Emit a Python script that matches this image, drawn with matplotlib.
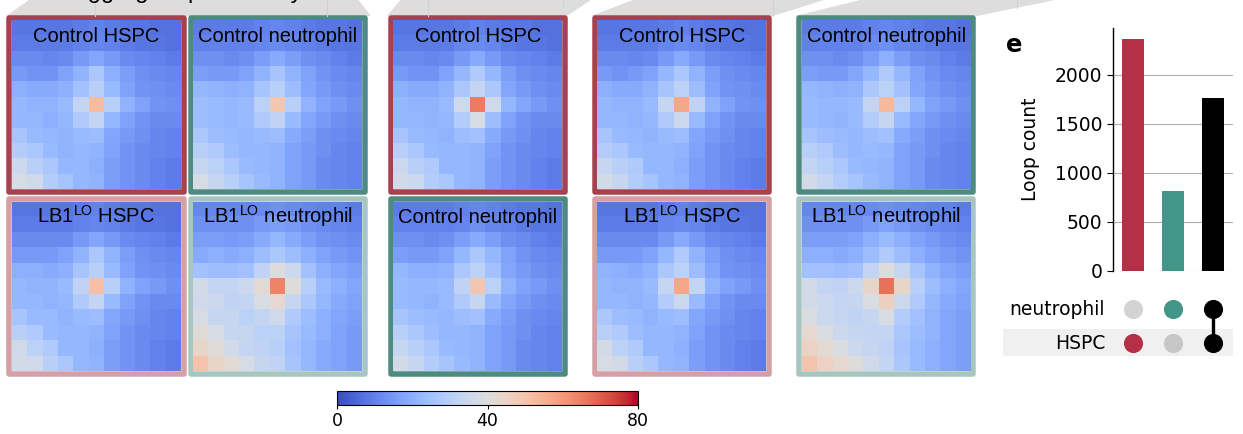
import numpy as np
import matplotlib
matplotlib.use("Agg")
import matplotlib.pyplot as plt
from matplotlib.patches import Rectangle, Polygon
from matplotlib.cm import ScalarMappable
from matplotlib.colors import Normalize

plt.rcParams['font.family'] = ['DejaVu Sans']
plt.rcParams['mathtext.fontset'] = 'custom'
plt.rcParams['mathtext.rm'] = 'Liberation Sans'

W, H = 1243, 434
DPI = 100

# ---------------- data ----------------
# APA matrices (11x11)
ctrl_hspc_1 = [
    [8, 8, 8, 8, 9, 10, 9, 8, 8, 7, 7],
    [9, 9, 9, 9, 10, 11, 10, 9, 8, 8, 7],
    [12, 12, 11, 12, 15, 18, 15, 12, 11, 10, 9],
    [15, 14, 14, 17, 21, 27, 20, 16, 13, 12, 11],
    [20, 19, 19, 20, 25, 30, 23, 17, 14, 13, 12],
    [22, 21, 21, 23, 33, 52, 30, 21, 17, 14, 13],
    [22, 22, 20, 22, 28, 33, 22, 17, 14, 12, 12],
    [26, 23, 22, 21, 23, 24, 18, 15, 13, 11, 10],
    [29, 27, 23, 21, 22, 21, 17, 14, 12, 11, 10],
    [35, 30, 27, 22, 22, 20, 16, 14, 12, 10, 9],
    [38, 36, 29, 26, 22, 21, 16, 14, 12, 10, 9],
]
ctrl_neut_1 = [
    [9, 9, 9, 9, 10, 11, 10, 9, 8, 8, 7],
    [10, 10, 10, 10, 11, 12, 11, 10, 9, 8, 8],
    [13, 13, 12, 13, 16, 19, 16, 13, 12, 10, 9],
    [16, 15, 15, 17, 21, 26, 21, 17, 14, 12, 11],
    [22, 21, 20, 21, 26, 30, 24, 18, 15, 13, 12],
    [24, 23, 22, 23, 31, 49, 30, 21, 17, 15, 13],
    [24, 23, 22, 23, 28, 32, 23, 18, 15, 13, 12],
    [27, 24, 23, 22, 23, 24, 19, 16, 13, 12, 11],
    [30, 28, 24, 22, 22, 21, 17, 15, 13, 11, 10],
    [34, 31, 27, 23, 22, 21, 17, 15, 12, 11, 10],
    [38, 34, 30, 26, 23, 21, 17, 15, 12, 11, 10],
]
lb1_hspc_1 = [
    [8, 8, 8, 8, 9, 10, 9, 8, 8, 7, 7],
    [9, 9, 9, 9, 10, 11, 10, 9, 8, 8, 7],
    [12, 12, 12, 12, 15, 18, 15, 12, 11, 10, 9],
    [15, 15, 15, 17, 21, 27, 21, 16, 13, 12, 11],
    [20, 20, 19, 20, 26, 30, 23, 17, 14, 13, 12],
    [22, 21, 21, 23, 32, 51, 30, 21, 17, 15, 13],
    [22, 22, 21, 22, 28, 33, 23, 17, 14, 12, 12],
    [26, 23, 23, 21, 23, 24, 18, 15, 13, 11, 10],
    [30, 28, 23, 22, 22, 21, 17, 14, 12, 11, 10],
    [36, 31, 28, 22, 22, 20, 16, 14, 12, 10, 9],
    [37, 36, 30, 27, 22, 21, 16, 14, 12, 10, 9],
]
lb1_neut_1 = [
    [11, 11, 11, 11, 12, 13, 12, 11, 10, 10, 9],
    [13, 13, 13, 13, 15, 16, 15, 13, 12, 11, 10],
    [16, 16, 15, 16, 19, 22, 19, 16, 14, 13, 12],
    [19, 20, 19, 20, 24, 27, 24, 20, 17, 15, 14],
    [25, 24, 24, 25, 32, 40, 35, 25, 20, 18, 16],
    [37, 33, 33, 35, 42, 64, 40, 30, 23, 20, 18],
    [36, 35, 32, 33, 38, 43, 34, 27, 22, 19, 17],
    [38, 34, 34, 31, 33, 36, 28, 24, 20, 18, 16],
    [41, 38, 34, 34, 31, 31, 26, 23, 20, 17, 15],
    [44, 41, 37, 33, 32, 30, 25, 22, 19, 17, 15],
    [50, 44, 42, 38, 34, 32, 26, 22, 19, 17, 15],
]
ctrl_hspc_2 = [
    [8, 8, 8, 8, 9, 10, 9, 8, 8, 7, 7],
    [9, 9, 9, 9, 11, 12, 11, 9, 8, 8, 7],
    [12, 12, 11, 12, 15, 19, 15, 12, 11, 10, 9],
    [15, 14, 14, 17, 22, 28, 22, 16, 13, 12, 11],
    [20, 19, 19, 21, 27, 33, 27, 18, 15, 13, 12],
    [22, 21, 21, 23, 36, 65, 36, 22, 18, 15, 13],
    [22, 22, 21, 22, 29, 38, 24, 17, 14, 12, 12],
    [26, 23, 22, 21, 24, 25, 19, 15, 13, 11, 10],
    [30, 27, 23, 22, 22, 21, 17, 14, 12, 11, 10],
    [35, 30, 28, 22, 22, 21, 16, 14, 12, 10, 9],
    [37, 35, 29, 27, 22, 21, 16, 14, 12, 10, 9],
]
ctrl_neut_2 = [
    [9, 9, 9, 9, 10, 11, 10, 9, 8, 8, 7],
    [10, 10, 10, 10, 11, 13, 11, 10, 9, 8, 8],
    [13, 13, 12, 13, 16, 19, 16, 13, 12, 10, 9],
    [16, 15, 15, 17, 22, 27, 22, 17, 14, 12, 11],
    [22, 20, 20, 21, 27, 31, 25, 18, 15, 13, 12],
    [23, 22, 22, 23, 32, 49, 31, 21, 17, 15, 13],
    [23, 22, 21, 23, 28, 34, 23, 18, 15, 13, 12],
    [26, 24, 23, 22, 24, 25, 19, 16, 13, 12, 11],
    [30, 27, 24, 22, 22, 21, 17, 15, 13, 11, 10],
    [34, 30, 27, 23, 22, 21, 17, 15, 12, 11, 10],
    [37, 34, 29, 26, 23, 21, 17, 15, 12, 11, 10],
]
ctrl_hspc_3 = [
    [8, 8, 8, 8, 9, 10, 9, 8, 8, 7, 7],
    [9, 9, 9, 9, 11, 12, 11, 9, 8, 8, 7],
    [12, 12, 11, 12, 15, 19, 15, 12, 11, 10, 9],
    [15, 14, 15, 17, 22, 27, 21, 16, 13, 12, 11],
    [20, 19, 19, 21, 26, 31, 24, 17, 14, 13, 12],
    [22, 21, 21, 23, 34, 57, 32, 21, 17, 14, 13],
    [22, 22, 21, 22, 28, 35, 23, 17, 14, 12, 12],
    [26, 23, 22, 21, 23, 24, 18, 15, 13, 11, 10],
    [29, 27, 23, 22, 22, 21, 17, 14, 12, 11, 10],
    [34, 30, 28, 22, 22, 20, 16, 14, 12, 10, 9],
    [37, 34, 29, 26, 22, 21, 16, 14, 12, 10, 9],
]
lb1_hspc_3 = [
    [8, 8, 8, 8, 9, 10, 9, 8, 8, 7, 7],
    [9, 9, 9, 9, 11, 12, 11, 9, 8, 8, 7],
    [12, 12, 12, 12, 15, 19, 15, 12, 11, 10, 9],
    [15, 15, 15, 17, 22, 28, 21, 16, 13, 12, 11],
    [21, 20, 19, 21, 27, 31, 24, 18, 14, 13, 12],
    [22, 21, 21, 23, 34, 57, 33, 21, 17, 15, 13],
    [22, 22, 21, 22, 29, 35, 23, 17, 14, 12, 12],
    [27, 24, 23, 21, 23, 24, 18, 15, 13, 11, 10],
    [30, 28, 24, 22, 22, 21, 17, 14, 12, 11, 10],
    [37, 31, 28, 22, 22, 20, 16, 14, 12, 10, 9],
    [38, 37, 30, 27, 22, 21, 16, 14, 12, 10, 9],
]
ctrl_neut_4 = [
    [9, 9, 9, 9, 10, 11, 10, 9, 8, 8, 7],
    [10, 10, 10, 10, 12, 13, 11, 10, 9, 8, 8],
    [13, 13, 12, 13, 16, 20, 16, 13, 12, 10, 9],
    [16, 15, 15, 18, 22, 28, 22, 17, 14, 12, 11],
    [22, 21, 20, 21, 27, 31, 25, 18, 15, 13, 12],
    [23, 22, 22, 23, 33, 53, 31, 22, 17, 15, 13],
    [23, 22, 21, 23, 29, 34, 23, 18, 15, 13, 12],
    [26, 24, 23, 22, 24, 25, 19, 16, 13, 12, 11],
    [30, 28, 24, 22, 23, 22, 17, 15, 13, 11, 10],
    [33, 30, 27, 23, 22, 21, 17, 15, 12, 11, 10],
    [37, 33, 29, 26, 23, 21, 17, 15, 12, 11, 10],
]
lb1_neut_4 = [
    [11, 11, 11, 11, 12, 13, 12, 11, 10, 10, 9],
    [13, 13, 13, 13, 15, 17, 15, 13, 12, 11, 10],
    [16, 16, 16, 17, 20, 23, 20, 17, 15, 13, 12],
    [20, 20, 19, 20, 24, 28, 24, 20, 17, 15, 14],
    [25, 25, 24, 25, 33, 40, 34, 26, 21, 18, 16],
    [37, 33, 32, 35, 44, 67, 44, 30, 24, 20, 18],
    [37, 35, 33, 34, 39, 46, 35, 28, 22, 19, 17],
    [39, 35, 34, 32, 34, 38, 29, 25, 21, 18, 16],
    [43, 39, 35, 34, 33, 33, 27, 24, 21, 18, 16],
    [45, 42, 39, 35, 34, 32, 26, 23, 20, 18, 16],
    [50, 45, 43, 40, 36, 33, 27, 23, 20, 18, 16],
]

# Upset plot data
set_names = ['HSPC', 'neutrophil']
loop_counts = [2364, 816, 1759]
membership = [[1, 0], [0, 1], [1, 1]]   # (HSPC, neutrophil) per bar
bar_colors = ['#b53046', '#439489', '#000000']
yticks_upset = [0, 500, 1000, 1500, 2000]
cbar_ticks = [0, 40, 80]

# ---------------- layout helpers ----------------
fig = plt.figure(figsize=(W / DPI, H / DPI), dpi=DPI)


def fx(x):
    return x / W


def fy(y):
    return 1 - y / H


over = fig.add_axes([0, 0, 1, 1], zorder=0)
over.set_xlim(0, W)
over.set_ylim(H, 0)
over.axis('off')

# gray connector shapes at the top (cut off by the figure edge)
gray = '#dddddd'
polys = [
    [(6, 16), (371, 16), (357, -2), (32, -2)],
    [(387, 16), (567, 16), (594, -2), (402, -2)],
    [(591, 16), (773, 16), (830, -2), (638, -2)],
    [(795, 16), (977, 16), (1065, -2), (868, -2)],
]
for p in polys:
    over.add_patch(Polygon(p, closed=True, facecolor=gray, edgecolor='none'))
for (x, y1) in [(95, 16), (327, 16), (428, 16), (563, 6), (773, 16), (1017, 8)]:
    over.plot([x, x], [-2, y1], color='#d0d0d0', lw=0.8)

# title of the panel above, cut off at the top edge as in the reference
fig.text(fx(72), 1 + 2 / H, 'Aggregate peak analysis', family='Liberation Sans',
         fontsize=17, ha='left', va='baseline')

# ---------------- heatmaps ----------------
col_red = '#a6414f'
col_teal = '#4d8a80'
col_pink = '#d4a0a6'
col_lteal = '#a8c6c0'

t_ctrl_hspc = 'Control HSPC'
t_ctrl_neut = 'Control neutrophil'
t_lb1_hspc = r'LB1$^{\mathregular{LO}}$ HSPC'
t_lb1_neut = r'LB1$^{\mathregular{LO}}$ neutrophil'

size = 169.0
top_y, bot_y = 20.3, 201.8
panels = [
    (12.0, top_y, ctrl_hspc_1, t_ctrl_hspc, col_red),
    (193.3, top_y, ctrl_neut_1, t_ctrl_neut, col_teal),
    (12.0, bot_y, lb1_hspc_1, t_lb1_hspc, col_pink),
    (193.3, bot_y, lb1_neut_1, t_lb1_neut, col_lteal),
    (393.3, top_y, ctrl_hspc_2, t_ctrl_hspc, col_red),
    (393.3, bot_y, ctrl_neut_2, t_ctrl_neut, col_teal),
    (597.3, top_y, ctrl_hspc_3, t_ctrl_hspc, col_red),
    (597.3, bot_y, lb1_hspc_3, t_lb1_hspc, col_pink),
    (801.7, top_y, ctrl_neut_4, t_ctrl_neut, col_teal),
    (801.7, bot_y, lb1_neut_4, t_lb1_neut, col_lteal),
]
bw = 5.5
for (x0, y0, mat, title, ec) in panels:
    over.add_patch(Rectangle((x0 - bw / 2, y0 - bw / 2), size + bw, size + bw,
                             fill=False, edgecolor=ec, lw=bw * 72 / DPI,
                             joinstyle='round'))
    ax = fig.add_axes([fx(x0), fy(y0 + size), size / W, size / H], zorder=1)
    ax.imshow(np.array(mat), cmap='coolwarm', vmin=0, vmax=80,
              interpolation='nearest', aspect='auto')
    ax.axis('off')
    ax.text(0.5, 1 - 21.4 / size, title, transform=ax.transAxes,
            ha='center', va='baseline', fontsize=14.5, family='Liberation Sans',
            color='black')

# colorbar
cax = fig.add_axes([fx(337.3), fy(405), 300.4 / W, 14.3 / H], zorder=1)
sm = ScalarMappable(norm=Normalize(0, 80), cmap='coolwarm')
cb = fig.colorbar(sm, cax=cax, orientation='horizontal', ticks=cbar_ticks)
cb.outline.set_linewidth(0.8)
cax.tick_params(labelsize=12.5, length=3, width=0.8, pad=2)

# ---------------- upset plot ----------------
axb = fig.add_axes([fx(1112.7), fy(270.7), 120 / W, 242.4 / H], zorder=1)
xs = np.arange(len(loop_counts))
axb.bar(xs, loop_counts, width=0.54, color=bar_colors, zorder=3)
axb.set_xlim(-0.5, 2.5)
axb.set_ylim(0, 2473)
axb.set_yticks(yticks_upset)
axb.set_xticks([])
for s in ['top', 'right', 'bottom']:
    axb.spines[s].set_visible(False)
axb.spines['left'].set_linewidth(1.0)
axb.yaxis.grid(True, color='#b0b0b0', lw=0.8, zorder=0)
axb.set_axisbelow(True)
axb.tick_params(axis='y', labelsize=13.5, length=4.5, width=0.8, pad=3)
axb.set_ylabel('Loop count', fontsize=13.5)
axb.yaxis.set_label_coords(-0.606, 0.5)

fig.text(fx(1006), fy(52.5), 'e', fontsize=17.5, fontweight='bold',
         ha='left', va='baseline')

axm = fig.add_axes([fx(1112.7), fy(360.3), 120 / W, 68 / H], zorder=1)
axm.set_xlim(-0.5, 2.5)
axm.set_ylim(-0.5, 1.5)
axm.axis('off')
axm.add_patch(Rectangle((-3.25, -0.365), 5.75, 0.785, facecolor='#f0f0f0',
                        edgecolor='none', clip_on=False, zorder=0))
row_y = {'HSPC': 0, 'neutrophil': 1}
inactive = {'HSPC': '#c6c6c6', 'neutrophil': '#d3d3d3'}
for i, mem in enumerate(membership):
    active_rows = []
    for j, name in enumerate(set_names):
        if mem[j]:
            active_rows.append(row_y[name])
            c = bar_colors[i]
        else:
            c = inactive[name]
        axm.scatter([i], [row_y[name]], s=190, color=c, zorder=3,
                    clip_on=False, linewidths=0)
    if len(active_rows) > 1:
        axm.plot([i, i], [min(active_rows), max(active_rows)],
                 color=bar_colors[i], lw=2.4, zorder=2)
for name in set_names:
    axm.text(-0.69, row_y[name], name, ha='right', va='center',
             fontsize=13.5)

fig.savefig('out.png', dpi=DPI)
